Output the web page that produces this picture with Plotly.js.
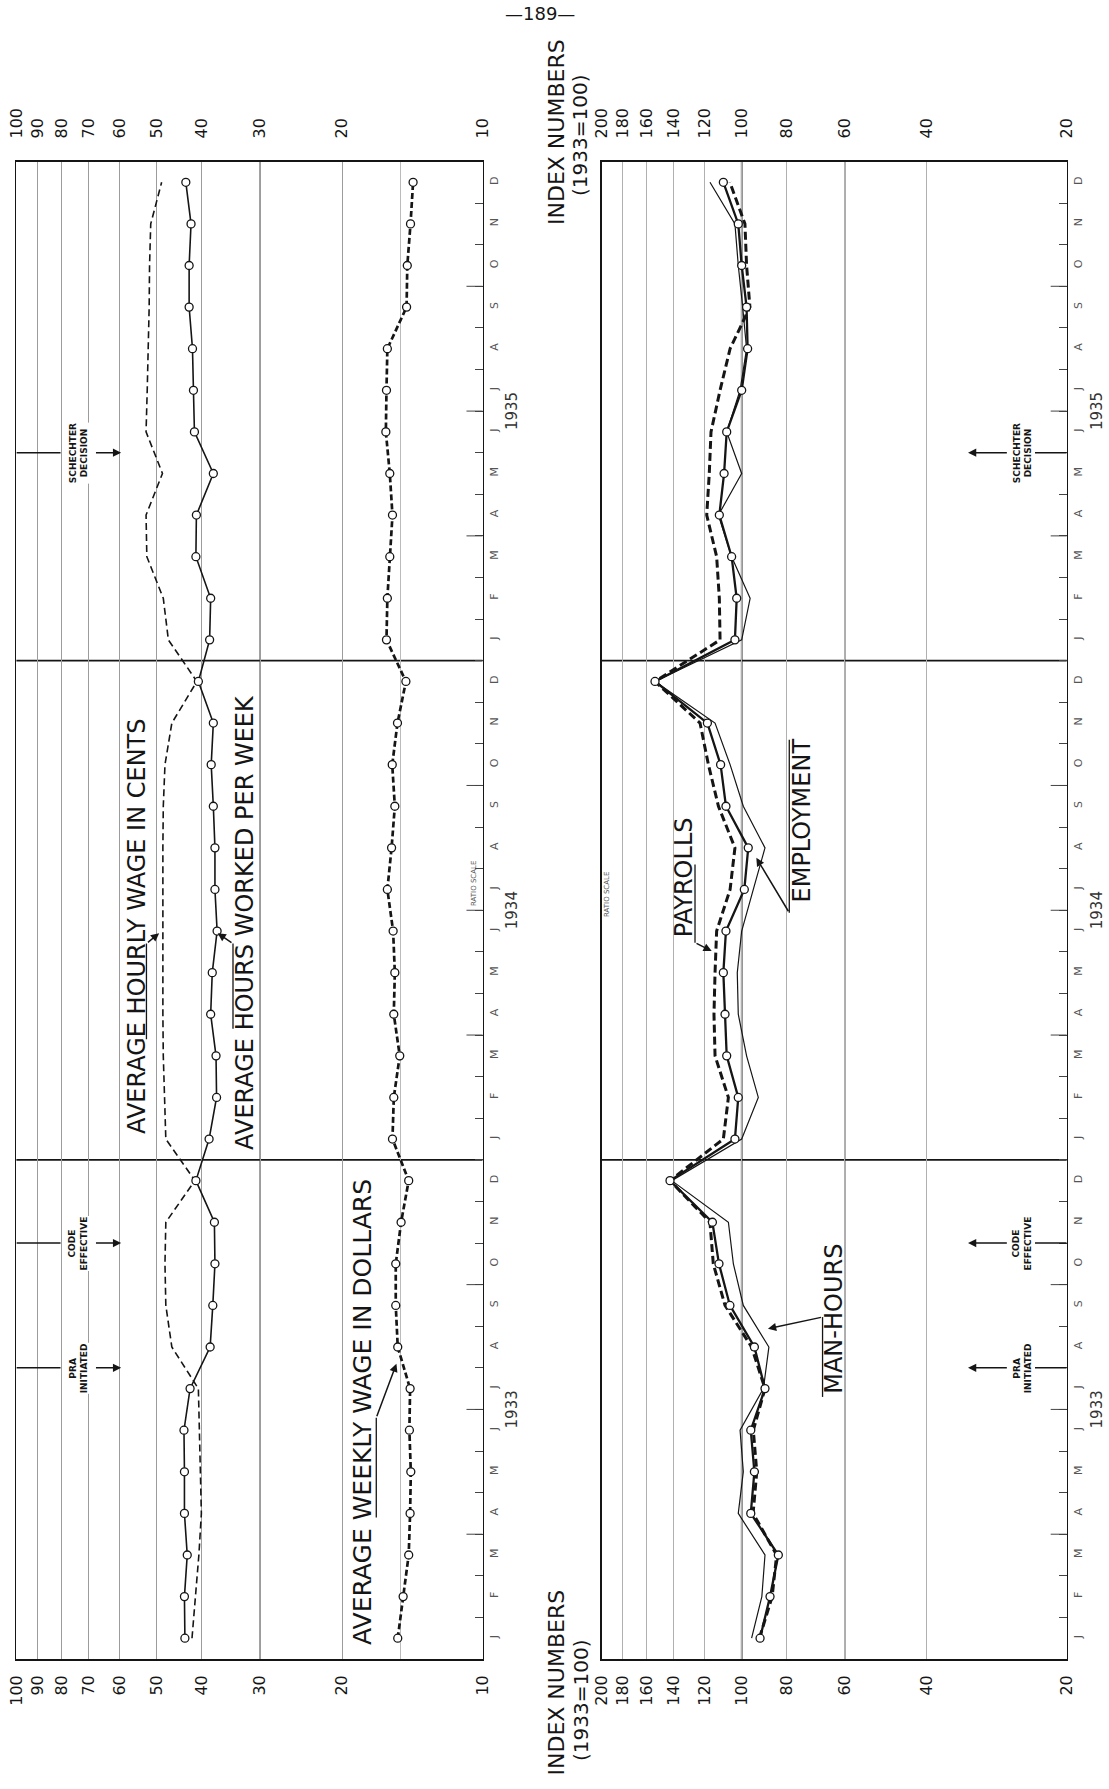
<!DOCTYPE html>
<html><head><meta charset="utf-8">
<script src="https://cdn.plot.ly/plotly-3.0.1.min.js"></script>
<style>html,body{margin:0;padding:0;background:#fff}</style>
</head><body>
<div id="chart" style="width:1109px;height:1789px"></div>
<script>
// ---------------- DATA (Jan 1933 ... Dec 1935) ----------------
const MONTH_LETTERS = ['J','F','M','A','M','J','J','A','S','O','N','D'];
const YEARS = ['1933','1934','1935'];

// Left chart (ratio scale, 10-100)
const HOURS_WORKED = [43.5,43.6,43.0,43.6,43.6,43.7,42.4,38.4,37.9,37.5,37.6,41.2,
                      38.6,37.2,37.3,38.3,38.0,37.1,37.5,37.5,37.8,38.2,37.8,40.7,
                      38.5,38.3,41.2,41.1,37.8,41.5,41.7,41.9,42.6,42.6,42.2,43.3];
const HOURLY_WAGE_CENTS = [42.0,41.3,40.6,40.1,40.3,40.5,40.7,46.4,47.8,48.0,47.8,41.4,
                           47.8,48.1,48.4,48.5,48.5,48.6,48.6,48.5,48.4,48.0,46.4,41.0,
                           47.2,48.4,52.5,52.7,48.6,52.7,52.4,52.1,51.9,51.8,51.5,48.8];
const WEEKLY_WAGE_DOLLARS = [15.2,14.8,14.4,14.3,14.25,14.35,14.3,15.2,15.35,15.35,14.95,14.4,
                             15.6,15.5,15.05,15.5,15.42,15.55,16.0,15.67,15.42,15.62,15.22,14.6,
                             16.07,16.0,15.81,15.6,15.81,16.12,16.07,16.0,14.55,14.5,14.27,14.09];

// Right chart (index numbers, 1933 = 100, ratio scale 20-200)
const EMPLOYMENT = [91.3,86.9,83.4,95.6,93.9,95.6,89.1,93.9,106.0,111.9,115.6,142.6,
                    103.4,101.7,107.7,108.6,109.5,108.1,98.7,96.8,108.1,111.0,118.5,153.6,
                    103.4,102.5,105.1,111.7,109.1,107.7,100.0,97.1,97.6,100.0,101.7,109.5];
const PAYROLLS = [91.6,86.0,84.1,94.5,92.8,94.4,89.1,95.2,108.6,115.1,117.0,142.6,
                  109.5,106.8,114.1,114.7,114.1,113.2,105.9,103.4,112.2,117.9,122.9,153.6,
                  111.3,111.7,113.2,118.9,117.4,116.4,111.3,105.9,96.0,97.6,98.4,106.0];
const MAN_HOURS = [95.2,90.5,89.1,101.7,99.2,100.8,89.8,87.4,99.2,104.2,106.8,141.4,
                   100.0,92.1,97.6,101.7,102.2,100.0,94.4,89.1,99.2,105.9,114.1,153.6,
                   100.0,95.9,105.1,112.2,100.0,107.7,100.8,97.6,99.5,101.7,103.4,117.0];

const LEFT_TICKS = [10,20,30,40,50,60,70,80,90,100];
const RIGHT_TICKS = [20,40,60,80,100,120,140,160,180,200];

// Events (position on the month axis, month index)
const EVENTS = [
  {text:'PRA<br>INITIATED', at:6.5},
  {text:'CODE<br>EFFECTIVE', at:9.5},
  {text:'SCHECHTER<br>DECISION', at:28.5}
];

// ---------------- LAYOUT GEOMETRY ----------------
const W = 1109, H = 1789;
const LX0 = 16.4, LX1 = 482.5, RX0 = 601.7, RX1 = 1066.7, YT = 161.5, YB = 1659;
const px = v => v / W, py = v => 1 - v / H;
const lg = Math.log10;
const FONT = 'DejaVu Sans, Liberation Sans, sans-serif';
const INK = '#151515';

const monthIdx = HOURS_WORKED.map((_, i) => i);
const monthText = monthIdx.map(i => MONTH_LETTERS[i % 12]);
const bounds = monthIdx.slice(0, monthIdx.length - 1).map(i => i + 0.5);

const openMarker = {symbol:'circle', size:8, color:'white', line:{color:INK, width:1.3}};

const traces = [
  {x: HOURLY_WAGE_CENTS, y: monthIdx, xaxis:'x', yaxis:'y', mode:'lines',
   line:{color:INK, width:1.6, dash:'7px,4px'}, hoverinfo:'skip'},
  {x: HOURS_WORKED, y: monthIdx, xaxis:'x', yaxis:'y', mode:'lines+markers',
   line:{color:INK, width:1.6}, marker: openMarker, hoverinfo:'skip'},
  {x: WEEKLY_WAGE_DOLLARS, y: monthIdx, xaxis:'x', yaxis:'y', mode:'lines+markers',
   line:{color:INK, width:2.7, dash:'6px,3px'}, marker: openMarker, hoverinfo:'skip'},
  {x: MAN_HOURS, y: monthIdx, xaxis:'x2', yaxis:'y2', mode:'lines',
   line:{color:INK, width:1.2}, hoverinfo:'skip'},
  {x: PAYROLLS, y: monthIdx, xaxis:'x2', yaxis:'y2', mode:'lines',
   line:{color:INK, width:3, dash:'8px,4px'}, hoverinfo:'skip'},
  {x: EMPLOYMENT, y: monthIdx, xaxis:'x2', yaxis:'y2', mode:'lines+markers',
   line:{color:INK, width:2.3}, marker: openMarker, hoverinfo:'skip'},
  // carriers for the top tick-label axes
  {x: [10, 100], y: [0, 0], xaxis:'x3', yaxis:'y', mode:'markers', marker:{opacity:0}, hoverinfo:'skip'},
  {x: [20, 200], y: [0, 0], xaxis:'x4', yaxis:'y2', mode:'markers', marker:{opacity:0}, hoverinfo:'skip'}
];

const xBase = (ticks, rng, dom, anchor, grid) => ({
  type:'log', range: rng, autorange:false, domain: dom, anchor: anchor,
  tickvals: ticks, ticktext: ticks.map(String), tickangle:-90, ticks:'',
  tickfont:{family:FONT, size:16, color:INK}, ticklabelstandoff: 8,
  showgrid:true, gridcolor: grid, gridwidth:1, zeroline:false,
  showline:true, mirror:true, linecolor:INK, linewidth:1.8
});
const xTop = (ticks, rng, over, anchor) => ({
  type:'log', range: rng, autorange:false, overlaying: over, side:'top', anchor: anchor,
  tickvals: ticks, ticktext: ticks.map(String), tickangle:-90, ticks:'',
  tickfont:{family:FONT, size:16, color:INK}, ticklabelstandoff: 22,
  showgrid:false, zeroline:false, showline:false
});
const yBase = (anchor) => ({
  domain:[py(YB), py(YT)], range:[-0.5, 35.5], autorange:false, anchor: anchor, side:'right',
  tickvals: monthIdx, ticktext: monthText, tickangle:-90, ticks:'',
  tickfont:{family:FONT, size:11, color:'#555'}, ticklabelstandoff: 1,
  showgrid:false, zeroline:false, showline:true, mirror:true, linecolor:INK, linewidth:1.5,
  minor:{tickvals: bounds, ticks:'inside', ticklen:8, tickcolor:'#444', tickwidth:1, showgrid:false}
});

const xLeft = xBase(LEFT_TICKS, [2, 1], [px(LX0), px(LX1)], 'y', '#9c9c9c');
xLeft.minor = {tickvals:[15], showgrid:true, gridcolor:'#bbbbbb', gridwidth:1, ticks:''};
const xRight = xBase(RIGHT_TICKS, [lg(200), lg(20)], [px(RX0), px(RX1)], 'y2', '#b0b0b0');
const yRight = yBase('x2'); yRight.matches = 'y';

// ---------------- SHAPES ----------------
const shapes = [];
// year dividers
[11.5, 23.5].forEach(b => {
  shapes.push({type:'line', xref:'x domain', yref:'y', x0:0, x1:1, y0:b, y1:b, line:{color:INK, width:1.6}, layer:'below'});
  shapes.push({type:'line', xref:'x2 domain', yref:'y2', x0:0, x1:1, y0:b, y1:b, line:{color:INK, width:1.6}, layer:'below'});
});
// quarter ticks (longer)
[2.5, 5.5, 8.5, 14.5, 17.5, 20.5, 26.5, 29.5, 32.5].forEach(b => {
  shapes.push({type:'line', xref:'x domain', yref:'y', x0:1 - 16/466, x1:1, y0:b, y1:b, line:{color:'#444', width:1}});
  shapes.push({type:'line', xref:'x2 domain', yref:'y2', x0:1 - 16/465, x1:1, y0:b, y1:b, line:{color:'#444', width:1}});
});
// darker reference grid lines
[['x','y',30,'#444',1.2], ['x2','y2',100,'#222',1.6], ['x2','y2',60,'#444',1.2]].forEach(([xr, yr, v, c, w]) => {
  shapes.push({type:'line', xref:xr, yref: yr + ' domain', x0:v, x1:v, y0:0, y1:1, line:{color:c, width:w}, layer:'below'});
});

// ---------------- ANNOTATIONS ----------------
const ann = [];
const txt = (xr, yr, x, y, text, size, extra) => ann.push(Object.assign({
  xref:xr, yref:yr, x:x, y:y, text:text, showarrow:false, textangle:-90,
  xanchor:'center', yanchor:'middle',
  font:{family:FONT, size:size, color:INK}
}, extra || {}));
const arrow = (xr, yr, xTail, yTail, xHead, yHead) => ann.push({
  xref:xr, yref:yr, axref:xr, ayref:yr, x:xHead, y:yHead, ax:xTail, ay:yTail, text:'',
  showarrow:true, arrowhead:2, arrowsize:1.1, arrowwidth:1.5, arrowcolor:INK
});
const seg = (xr, yr, v0, i0, v1, i1, w) => shapes.push({type:'line', xref:xr, yref:yr,
  x0:v0, x1:v1, y0:i0, y1:i1, line:{color:INK, width:w || 1.3}});

// event markers on both charts
const evFont = {family:FONT, size:9, color:INK, weight:'bold'};
EVENTS.forEach(ev => {
  // left chart: arrow pointing right
  seg('x', 'y', 100, ev.at, 80.4, ev.at, 1.5);
  arrow('x', 'y', lg(68), ev.at, lg(59.6), ev.at);
  txt('x', 'y', lg(73.6), ev.at, ev.text, 9, {bgcolor:'white', borderpad:0, font:evFont});
  // right chart: arrow pointing left
  seg('x2', 'y2', 20, ev.at, 23.4, ev.at, 1.5);
  arrow('x2', 'y2', lg(26.7), ev.at, lg(32.6), ev.at);
  txt('x2', 'y2', lg(24.9), ev.at, ev.text, 9, {bgcolor:'white', borderpad:0, font:evFont});
});

// series labels – left chart
txt('x', 'y', lg(55.1), 17.1, 'AVERAGE HOURLY WAGE IN CENTS', 24);
seg('x', 'y', 52.6, 14.4, 52.6, 16.7);
arrow('x', 'y', lg(52.6), 16.7, lg(49.4), 16.95);
txt('x', 'y', lg(32.3), 17.2, 'AVERAGE HOURS WORKED PER WEEK', 24);
seg('x', 'y', 34.3, 16.7, 34.3, 14.65);
arrow('x', 'y', lg(34.3), 16.7, lg(37.0), 16.95);
txt('x', 'y', lg(18.1), 5.45, 'AVERAGE WEEKLY WAGE IN DOLLARS', 25);
seg('x', 'y', 16.9, 2.9, 16.9, 5.3);
arrow('x', 'y', lg(16.9), 5.3, lg(15.3), 6.6);

// series labels – right chart
txt('x2', 'y2', lg(132.9), 18.3, 'PAYROLLS', 24);
seg('x2', 'y2', 126.0, 18.6, 126.0, 16.72);
arrow('x2', 'y2', lg(126.0), 16.72, lg(116.0), 16.52);
txt('x2', 'y2', lg(74.3), 19.65, 'EMPLOYMENT', 24);
seg('x2', 'y2', 79.0, 17.44, 79.0, 21.6);
arrow('x2', 'y2', lg(79.0), 17.44, lg(93.0), 18.76);
txt('x2', 'y2', lg(63.3), 7.68, 'MAN-HOURS', 24);
seg('x2', 'y2', 67.0, 7.72, 67.0, 5.8);
arrow('x2', 'y2', lg(67.0), 7.72, lg(87.8), 7.44);

// year labels beside the month letters
YEARS.forEach((yr, k) => {
  txt('paper', 'y', px(512), 5.5 + 12 * k, yr, 15, {font:{family:FONT, size:15, color:'#333'}});
  txt('paper', 'y2', px(1097), 5.5 + 12 * k, yr, 15, {font:{family:FONT, size:15, color:'#333'}});
});

// index numbers captions (top and bottom)
txt('paper', 'paper', px(557), py(132), 'INDEX NUMBERS', 22);
txt('paper', 'paper', px(580), py(136), '(1933=100)', 20);
txt('paper', 'paper', px(555.5), py(1683), 'INDEX NUMBERS', 22);
txt('paper', 'paper', px(581), py(1701), '(1933=100)', 20);

// ratio scale notes
txt('paper', 'paper', px(474), py(884), 'RATIO SCALE', 7, {font:{family:FONT, size:7, color:'#555'}});
txt('paper', 'paper', px(607), py(895), 'RATIO SCALE', 7, {font:{family:FONT, size:7, color:'#555'}});

// page number
ann.push({xref:'paper', yref:'paper', x:px(540), y:py(14), xanchor:'center', yanchor:'middle',
          text:'—189—', showarrow:false, font:{family:FONT, size:18, color:INK}});

const layout = {
  width: W, height: H, margin:{l:0, r:0, t:0, b:0}, showlegend:false,
  paper_bgcolor:'white', plot_bgcolor:'white',
  xaxis: xLeft,
  xaxis2: xRight,
  xaxis3: xTop(LEFT_TICKS, [2, 1], 'x', 'y'),
  xaxis4: xTop(RIGHT_TICKS, [lg(200), lg(20)], 'x2', 'y2'),
  yaxis: yBase('x'),
  yaxis2: yRight,
  shapes: shapes,
  annotations: ann
};

Plotly.newPlot('chart', traces, layout, {staticPlot:true, displayModeBar:false});
</script>
</body></html>
